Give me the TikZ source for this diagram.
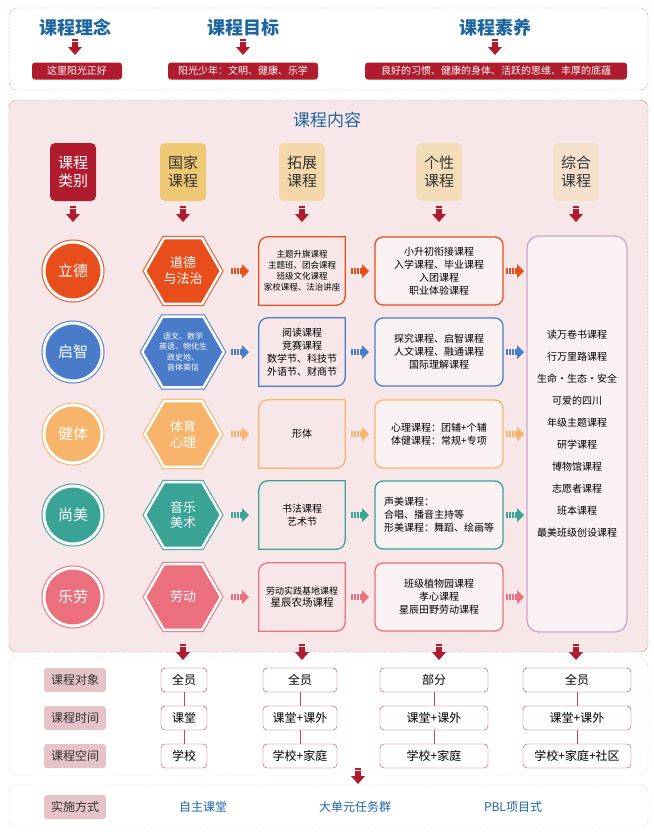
\documentclass[tikz,border=0pt]{standalone}
\usepackage{fontspec}
\setmainfont{Noto Sans CJK SC}
\usetikzlibrary{shapes.geometric,positioning}

\definecolor{kred}{HTML}{B01C2E}
\definecolor{kblue}{HTML}{1E66A0}
\definecolor{kpink}{HTML}{F7E7E9}
\definecolor{klab}{HTML}{E6C3C8}
\definecolor{corange}{HTML}{E84E1B}
\definecolor{cblue}{HTML}{4A7BC8}
\definecolor{cyellow}{HTML}{F7B46A}
\definecolor{cgreen}{HTML}{39A395}
\definecolor{crose}{HTML}{EB6F7C}
\definecolor{clilac}{HTML}{C9A7D3}
\definecolor{hnat}{HTML}{EEC872}
\definecolor{hext}{HTML}{F4D8AA}
\definecolor{hind}{HTML}{F3DDB8}
\definecolor{hint}{HTML}{F5E0CC}

% down arrow icon
\newcommand{\darr}[2]{%
  \fill[kred] (#1-3,#2-8) rectangle (#1+3,#2-6);
  \fill[kred] (#1-3,#2-5) rectangle (#1+3,#2);
  \fill[kred] (#1-7,#2) -- (#1+7,#2) -- (#1,#2+8) -- cycle;}
% right arrow icon
\newcommand{\rarr}[3]{%
  \foreach \d in {0,3,6} {\fill[#3] (#1-9+\d,#2-3) rectangle ++(2,6);}
  \fill[#3] (#1,#2-3) rectangle (#1+2,#2+3);
  \fill[#3] (#1+2,#2-7) -- (#1+9,#2) -- (#1+2,#2+7) -- cycle;}
% box with two rounded corners
\newcommand{\tzbox}[2]{%
  \draw[#2,line width=1.3pt,rounded corners=9pt,line cap=rect] (#1.north east) -- (#1.south east) -- (#1.south west);
  \draw[#2,line width=1.3pt,rounded corners=9pt,line cap=rect] (#1.south west) -- (#1.north west) -- (#1.north east);}

\begin{document}
\begin{tikzpicture}[x=1pt,y=-1pt,
    every node/.style={font=\fontsize{10}{13}\selectfont, align=center, inner sep=1pt},
    ]
\tikzset{
  panel/.style={draw=kred, densely dotted, rounded corners=8pt},
  grey panel/.style={draw=gray!70, densely dotted, rounded corners=8pt, fill=white},
  title/.style={text=kblue, font=\fontsize{18}{20}\selectfont\bfseries},
  redtag/.style={fill=kred, text=white, rounded corners=3pt, minimum height=17pt, inner xsep=5pt},
  head/.style={minimum width=46pt, minimum height=58pt, rounded corners=5pt, text=black!80, font=\fontsize{15}{18}\selectfont},
  ring/.style={circle, draw=#1, fill=#1, double=white, double distance=3pt, line width=1pt, minimum size=58pt, text=white, font=\fontsize{15}{18}\selectfont},
  hexa/.style={regular polygon, regular polygon sides=6, draw=#1, fill=#1, double=white, double distance=2.5pt, line width=1pt, minimum size=76pt, text=white, font=\fontsize{13}{16}\selectfont},
  tz/.style={minimum width=86pt, minimum height=68pt},
  gx/.style={draw=#1, line width=1.3pt, rounded corners=8pt, minimum width=128pt, minimum height=68pt, fill=white!40!kpink},
  lab/.style={fill=klab, rounded corners=3pt, minimum width=62pt, minimum height=24pt, font=\fontsize{12}{14}\selectfont, text=black!80},
  cell/.style={draw=kred!85, rounded corners=4pt, fill=white, minimum height=24pt, font=\fontsize{12}{14}\selectfont},
  link/.style={draw=kred!80, thin},
  way/.style={text=kblue, font=\fontsize{12}{14}\selectfont},
}
\useasboundingbox (0,0) rectangle (654,839);
\fill[white] (0,0) rectangle (654,839);

% ---------------- top panel
\draw[panel, fill=white] (9,8) rectangle (648,90);
\node[title] (idea) at (75,28) {课程理念};
\node[title] (goal) at (243,28) {课程目标};
\node[title] (lit) at (495,28) {课程素养};
\darr{75}{47}
\darr{243}{47}
\darr{495}{47}
\node[redtag, minimum width=90pt] (ideat) at (77,71) {这里阳光正好};
\node[redtag, minimum width=150pt] (goalt) at (243,71) {阳光少年：文明、健康、乐学};
\node[redtag, minimum width=262pt] (litt) at (496,71) {良好的习惯、健康的身体、活跃的思维、丰厚的底蕴};

% ---------------- content panel
\draw[panel, fill=kpink] (9,100) rectangle (648,652);
\node[text=kblue, font=\fontsize{17}{20}\selectfont] (cont) at (327,120) {课程内容};
\node[head, fill=kred, text=white] (h1) at (73,172) {课程\\类别};
\node[head, fill=hnat] (h2) at (183,172) {国家\\课程};
\node[head, fill=hext] (h3) at (302,172) {拓展\\课程};
\node[head, fill=hind] (h4) at (439,172) {个性\\课程};
\node[head, fill=hint] (h5) at (576,172) {综合\\课程};
\foreach \x in {73,183,302,439,576} {\darr{\x}{214}}

% row 1
\node[ring=corange] (c1) at (73,271) {立德};
\node[hexa=corange] (g1) at (183,271) {道德\\与法治};
\node[tz, font=\fontsize{8.5}{11}\selectfont] (t1) at (302,271) {主题升旗课程\\主题班、团会课程\\班级文化课程\\家校课程、法治讲座};
\node[gx=corange] (p1) at (439,271) {小升初衔接课程\\入学课程、毕业课程\\入团课程\\职业体验课程};
% row 2
\node[ring=cblue] (c2) at (73,352) {启智};
\node[hexa=cblue, font=\fontsize{8}{10.5}\selectfont] (g2) at (183,352) {语文、数学\\英语、物化生\\政史地、\\音体美信};
\node[tz] (t2) at (302,352) {阅读课程\\竞赛课程\\数学节、科技节\\外语节、财商节};
\node[gx=cblue] (p2) at (439,352) {探究课程、启智课程\\人文课程、融通课程\\国际理解课程};
% row 3
\node[ring=cyellow] (c3) at (73,434) {健体};
\node[hexa=cyellow] (g3) at (183,434) {体育\\心理};
\node[tz] (t3) at (302,434) {形体};
\node[gx=cyellow] (p3) at (439,434) {心理课程：团辅+个辅\\体健课程：常规+专项};
% row 4
\node[ring=cgreen] (c4) at (73,515) {尚美};
\node[hexa=cgreen] (g4) at (183,515) {音乐\\美术};
\node[tz] (t4) at (302,515) {书法课程\\艺术节};
\node[gx=cgreen, align=left] (p4) at (439,515) {声美课程：\\合唱、播音主持等\\形美课程：舞蹈、绘画等};
% row 5
\node[ring=crose] (c5) at (73,597) {乐劳};
\node[hexa=crose] (g5) at (183,597) {劳动};
\node[tz, font=\fontsize{9}{12}\selectfont] (t5) at (302,597) {劳动实践基地课程\\{\fontsize{10.5}{13}\selectfont 星辰农场课程}};
\node[gx=crose] (p5) at (439,597) {班级植物园课程\\孝心课程\\星辰田野劳动课程};

\tzbox{t1}{corange}
\tzbox{t2}{cblue}
\tzbox{t3}{cyellow}
\tzbox{t4}{cgreen}
\tzbox{t5}{crose}
\foreach \y/\c in {271/corange,352/cblue,434/cyellow,515/cgreen,597/crose} {
  \rarr{240}{\y}{\c}
  \rarr{360}{\y}{\c}
  \rarr{515}{\y}{\c}
}

% integrated courses
\draw[clilac, line width=1.3pt, rounded corners=12pt, fill=white!40!kpink] (527,236) rectangle (627,632);
\node[font=\fontsize{10}{13}\selectfont] (z) at (577,434) {读万卷书课程\\[9pt]行万里路课程\\[9pt]生命·生态·安全\\[9pt]可爱的四川\\[9pt]年级主题课程\\[9pt]研学课程\\[9pt]博物馆课程\\[9pt]志愿者课程\\[9pt]班本课程\\[9pt]最美班级创设课程};

% ---------------- bottom panel
\draw[grey panel] (9,658) rectangle (648,775);
\foreach \x in {183,302,439,576} {\darr{\x}{652}}
\node[lab] (l1) at (75,680) {课程对象};
\node[lab] (l2) at (75,718) {课程时间};
\node[lab] (l3) at (75,756) {课程空间};

\node[cell, minimum width=46pt] (a1) at (184,680) {全员};
\node[cell, minimum width=46pt] (a2) at (184,718) {课堂};
\node[cell, minimum width=46pt] (a3) at (184,756) {学校};
\node[cell, minimum width=74pt] (b1) at (300,680) {全员};
\node[cell, minimum width=74pt] (b2) at (300,718) {课堂+课外};
\node[cell, minimum width=74pt] (b3) at (300,756) {学校+家庭};
\node[cell, minimum width=108pt] (d1) at (434,680) {部分};
\node[cell, minimum width=108pt] (d2) at (434,718) {课堂+课外};
\node[cell, minimum width=108pt] (d3) at (434,756) {学校+家庭};
\node[cell, minimum width=108pt] (e1) at (577,680) {全员};
\node[cell, minimum width=108pt] (e2) at (577,718) {课堂+课外};
\node[cell, minimum width=108pt] (e3) at (577,756) {学校+家庭+社区};
\foreach \n in {a,b,d,e} {
  \draw[link] (\n1) -- (\n2);
  \draw[link] (\n2) -- (\n3);
}

\darr{358}{776}
\draw[grey panel] (9,785) rectangle (648,828);
\node[lab] (l4) at (75,807) {实施方式};
\node[way] (w1) at (203,807) {自主课堂};
\node[way] (w2) at (355,807) {大单元任务群};
\node[way] (w3) at (513,807) {PBL项目式};
\end{tikzpicture}
\end{document}
